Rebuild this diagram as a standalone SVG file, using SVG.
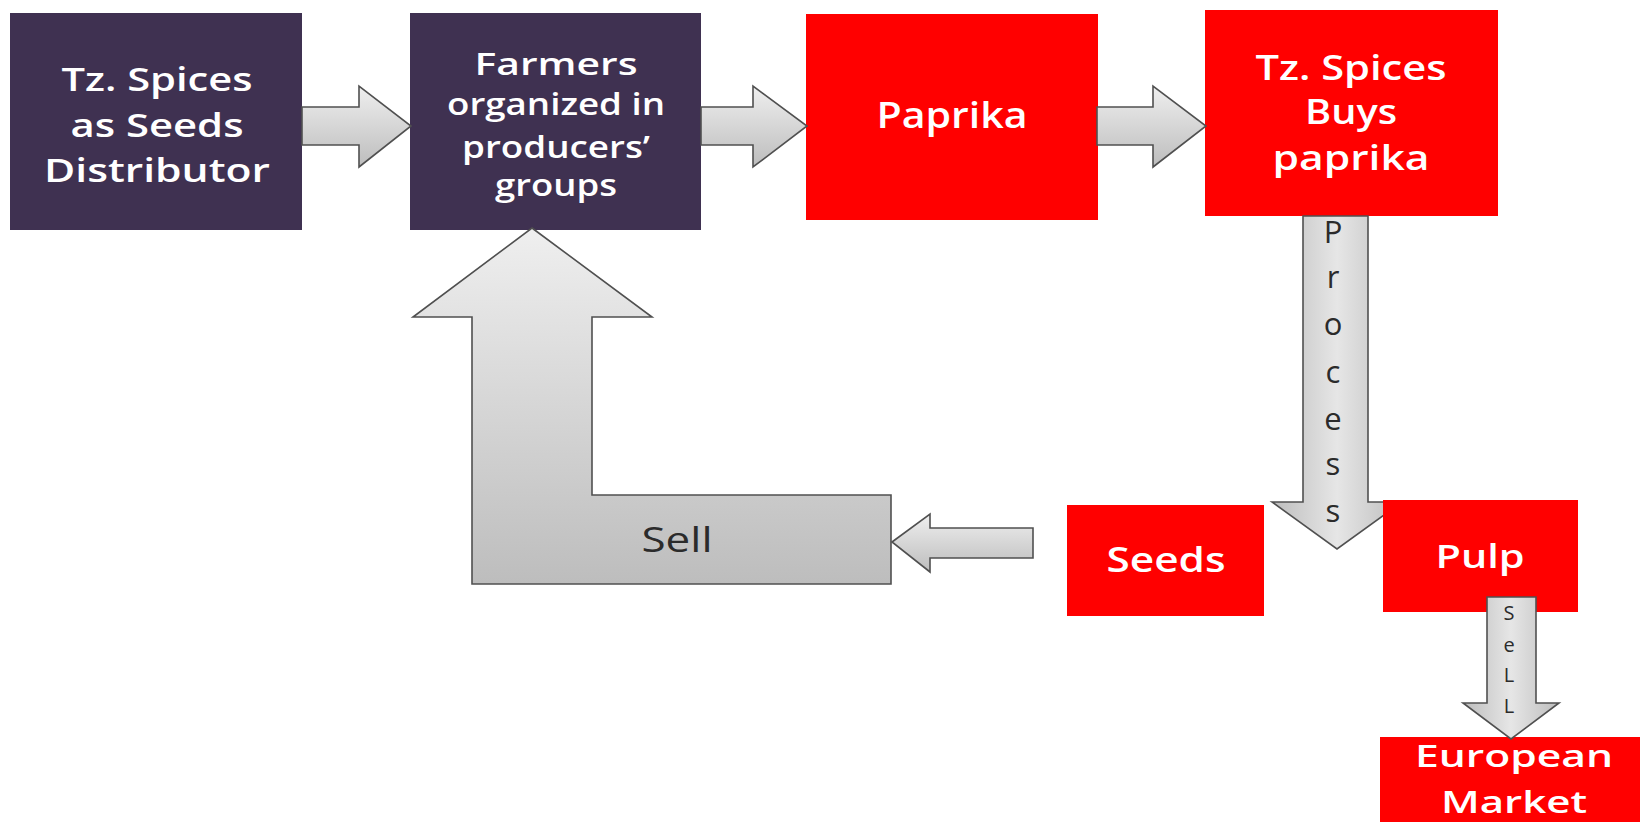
<svg xmlns="http://www.w3.org/2000/svg" width="1640" height="822" viewBox="0 0 1640 822">
<defs>
<linearGradient id="gv" x1="0" y1="0" x2="0" y2="1">
<stop offset="0" stop-color="#EFEFEF"/>
<stop offset="1" stop-color="#BDBDBD"/>
</linearGradient>
<linearGradient id="gh" x1="0" y1="0" x2="1" y2="0">
<stop offset="0" stop-color="#BDBDBD"/>
<stop offset="0.5" stop-color="#E6E6E6"/>
<stop offset="1" stop-color="#BDBDBD"/>
</linearGradient>
<clipPath id="cp"><rect x="0" y="0" width="1383" height="822"/></clipPath>
</defs>
<style>
.purple{fill:#3F3151}
.red{fill:#FF0000}
.wt{fill:#FFFFFF;font-family:"Open Sans","Liberation Sans",sans-serif;font-weight:600;text-anchor:middle}
.dk{fill:#2B2B2B;font-family:"Open Sans","Liberation Sans",sans-serif;font-weight:400;text-anchor:middle}
.arr{fill:url(#gv);stroke:#505050;stroke-width:1.6;stroke-linejoin:miter}
.arrv{fill:url(#gh);stroke:#505050;stroke-width:1.6;stroke-linejoin:miter}
</style>
<rect width="1640" height="822" fill="#FFFFFF"/>

<g id="node-distributor">
<rect class="purple" x="10" y="13" width="292" height="217"/>
<text class="wt" font-size="33" x="157" y="91" textLength="191" lengthAdjust="spacingAndGlyphs">Tz. Spices</text>
<text class="wt" font-size="33" x="157" y="137" textLength="173" lengthAdjust="spacingAndGlyphs">as Seeds</text>
<text class="wt" font-size="33" x="157" y="182" textLength="226" lengthAdjust="spacingAndGlyphs">Distributor</text>
</g>

<g id="node-farmers">
<rect class="purple" x="410" y="13" width="291" height="217"/>
<text class="wt" font-size="30" x="556" y="75" textLength="163" lengthAdjust="spacingAndGlyphs">Farmers</text>
<text class="wt" font-size="30" x="556" y="115" textLength="218" lengthAdjust="spacingAndGlyphs">organized in</text>
<text class="wt" font-size="30" x="556" y="158" textLength="188" lengthAdjust="spacingAndGlyphs">producers’</text>
<text class="wt" font-size="30" x="556" y="196" textLength="122" lengthAdjust="spacingAndGlyphs">groups</text>
</g>

<g id="node-paprika">
<rect class="red" x="806" y="14" width="292" height="206"/>
<text class="wt" font-size="36" x="952" y="128" textLength="151" lengthAdjust="spacingAndGlyphs">Paprika</text>
</g>

<g id="node-buys">
<rect class="red" x="1205" y="10" width="293" height="206"/>
<text class="wt" font-size="35" x="1351" y="80" textLength="191" lengthAdjust="spacingAndGlyphs">Tz. Spices</text>
<text class="wt" font-size="35" x="1351" y="124" textLength="92" lengthAdjust="spacingAndGlyphs">Buys</text>
<text class="wt" font-size="35" x="1351" y="170" textLength="157" lengthAdjust="spacingAndGlyphs">paprika</text>
</g>

<g id="node-seeds">
<rect class="red" x="1067" y="505" width="197" height="111"/>
<text class="wt" font-size="35" x="1166" y="572" textLength="119" lengthAdjust="spacingAndGlyphs">Seeds</text>
</g>

<g id="node-european">
<rect class="red" x="1380" y="737" width="260" height="85"/>
<text class="wt" font-size="30" x="1514" y="767" textLength="198" lengthAdjust="spacingAndGlyphs">European</text>
<text class="wt" font-size="30" x="1514" y="813" textLength="146" lengthAdjust="spacingAndGlyphs">Market</text>
</g>

<g id="connectors">
<polygon class="arr" points="302,107 359,107 359,86 411,126 359,167 359,145 302,145"/>
<polygon class="arr" points="701,107 753,107 753,86 807,126 753,167 753,145 701,145"/>
<polygon class="arr" points="1097,107 1153,107 1153,86 1206,126 1153,167 1153,145 1097,145"/>
<g clip-path="url(#cp)">
<polygon class="arrv" points="1303,216 1368,216 1368,502 1402,502 1337,549 1272,502 1303,502"/>
</g>
<text class="dk" font-size="31" x="1333" y="243">P</text>
<text class="dk" font-size="31" x="1333" y="288">r</text>
<text class="dk" font-size="31" x="1333" y="335">o</text>
<text class="dk" font-size="31" x="1333" y="383">c</text>
<text class="dk" font-size="31" x="1333" y="430">e</text>
<text class="dk" font-size="31" x="1333" y="475">s</text>
<text class="dk" font-size="31" x="1333" y="522">s</text>
<polygon class="arr" points="532,228 652,317 592,317 592,495 891,495 891,584 472,584 472,317 413,317"/>
<text class="dk" font-size="34" x="677" y="552" textLength="71" lengthAdjust="spacingAndGlyphs">Sell</text>
<polygon class="arr" points="892,542 930,514 930,528 1033,528 1033,558 930,558 930,572"/>
</g>

<g id="node-pulp">
<rect class="red" x="1383" y="500" width="195" height="112"/>
<text class="wt" font-size="33" x="1480" y="568" textLength="89" lengthAdjust="spacingAndGlyphs">Pulp</text>
</g>

<g id="connector-sell-market">
<polygon class="arrv" points="1487,597 1536,597 1536,703 1559,703 1511,739 1463,703 1487,703"/>
<text class="dk" font-size="20" x="1509" y="620">S</text>
<text class="dk" font-size="20" x="1509" y="652">e</text>
<text class="dk" font-size="20" x="1509" y="682">L</text>
<text class="dk" font-size="20" x="1509" y="713">L</text>
</g>
</svg>
